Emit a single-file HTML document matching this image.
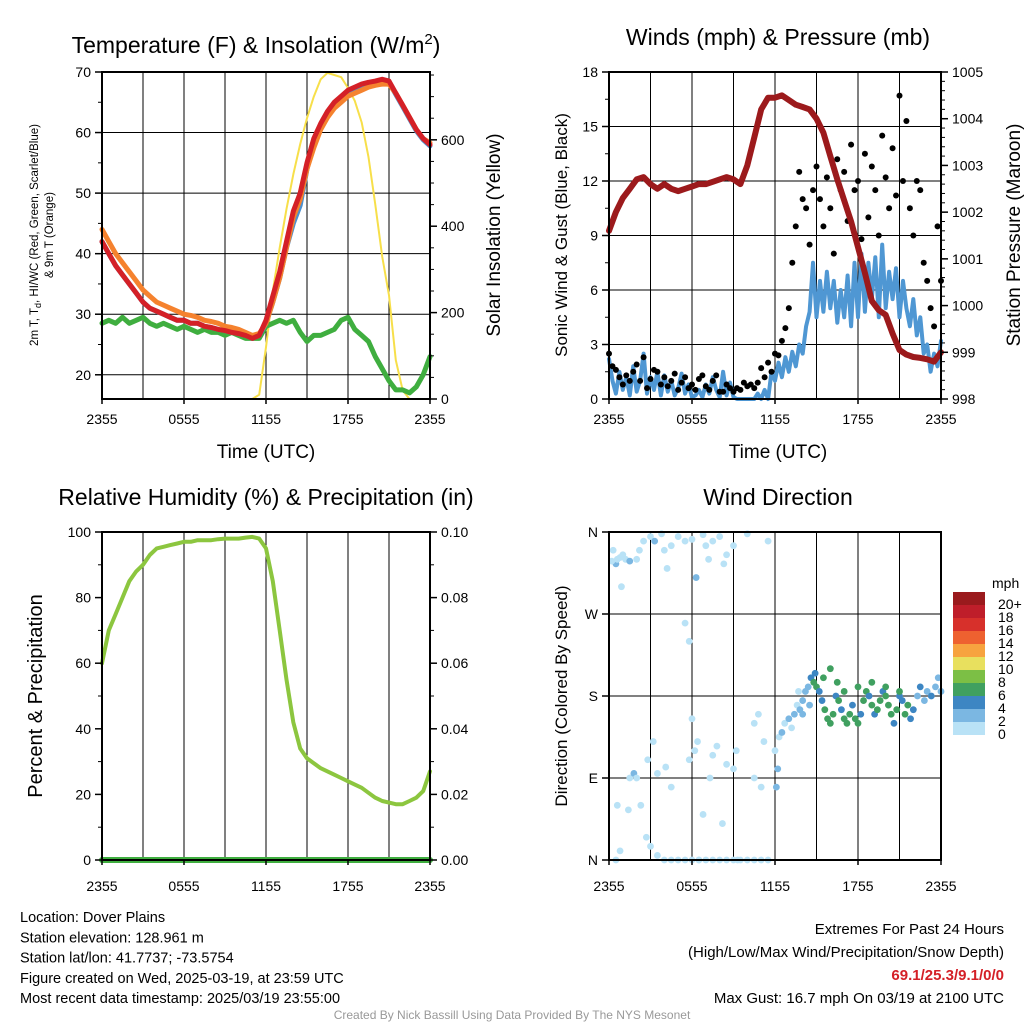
<!DOCTYPE html>
<html><head><meta charset="utf-8"><style>
html,body{margin:0;padding:0;background:#fff;}
svg{display:block;font-family:"Liberation Sans",sans-serif;}
</style></head><body>
<svg id="c" width="1024" height="1024" viewBox="0 0 1024 1024" xmlns="http://www.w3.org/2000/svg"></svg>
<script>
// ---- data (0.5h steps from 2355 UTC) ----
const hours = [];
for (let i = 0; i <= 48; i++) hours.push(i * 0.5);
const xTickLabels = ["2355","0555","1155","1755","2355"];
const tempRed = [42,40,38,36.5,35,33.5,32,31,30.5,30,29.5,29,29,28.5,28.5,28,27.8,27.5,27.3,27,26.8,26.5,26,26.5,29,33,37,42,47,50,55,59,61.5,63.5,65,66,67,67.5,68,68.3,68.5,68.8,68.5,66.5,64.5,62.5,60.5,59,58];
const tempOrange = [44,42,40,38.5,37,35.5,34,33,32,31.5,31,30.5,30,29.8,29.5,29,28.8,28.5,28,27.8,27.5,27,26.5,26.8,28.5,32,36,41,46,49,54,57.5,60.5,62.5,64,65,66,66.5,67,67.5,67.8,68,68,66.5,64.5,62.5,60.5,59,58.3];
const tempBlue = [42,40,38,36.5,35,33.5,32,31,30.5,30,29.5,29,29,28.5,28.5,28,27.8,27.5,27.3,27,26.8,26.5,26,26.5,28.5,32,36,41,45,48,54,58.5,61,63,64.5,65.5,66.5,67,67.5,68,68.3,68.5,68.3,66.3,64.3,62.3,60.3,58.8,57.8];
const dewGreen = [28.5,29,28.5,29.5,28.5,29,29.5,28.5,28,28.5,28,27.5,28,27.5,27,27.5,27,27,26.5,27,26.5,26,26,26,28,28.5,29,28.5,29,27,25.5,26.5,26.5,27,27.5,29,29.5,27.5,26.5,25.5,23,21,19,17.5,17.5,17,18,20,23];
const solar = [0,0,0,0,0,0,0,0,0,0,0,0,0,0,0,0,0,0,0,0,0,0,0,10,120,250,350,440,520,590,650,700,740,755,750,745,720,690,640,560,450,330,240,90,20,0,0,0,0];
const windMean = [2.2,1.0,0.3,1.5,0.5,1.2,0.2,1.8,0.4,1.0,2.5,0.3,
1.2,0.5,1.5,0.2,1.3,0.4,1.0,0.2,0.6,1.4,0.3,0.8,
0.1,0.2,0.5,0.1,0.8,0.3,1.2,0.5,0.1,1.5,0.2,0.9,
0.1,0,0,0,0,0,0,0.3,0,0.5,0,1.5,
1.0,2.0,1.2,2.3,1.5,2.6,1.8,3.0,2.5,4.0,4.8,7.5,
4.5,6.5,4.8,7.0,5.0,6.5,4.2,6.0,4.5,6.8,4.0,7.5,
4.5,8.0,4.8,7.5,5.5,7.8,4.5,8.5,5.0,7.0,5.5,7.2,
4.5,6.5,5.0,4.0,5.5,3.5,4.5,2.5,3.0,1.5,2.5,1.8,3.2];
const pressure = [1001.6,1002.0,1002.3,1002.5,1002.7,1002.75,1002.6,1002.5,1002.6,1002.5,1002.45,1002.5,1002.55,1002.6,1002.6,1002.65,1002.7,1002.75,1002.7,1002.6,1003.0,1003.6,1004.2,1004.45,1004.45,1004.5,1004.4,1004.3,1004.25,1004.2,1004.0,1003.7,1003.2,1002.7,1002.25,1001.8,1001.25,1000.7,1000.1,999.9,999.8,999.4,999.05,998.95,998.9,998.88,998.85,998.8,999.0];
const gust = [2.5,1.8,1.6,1.2,0.8,1.3,1.0,1.5,1.9,1.0,2.3,0.6,
1.1,1.6,1.5,0.8,1.2,0.7,1.0,1.4,0.5,0.9,1.2,0.6,
0.8,0.5,1.1,1.3,0.7,0.5,1.0,1.3,0.4,0.4,0.8,0.6,
0.4,0.6,0.5,0.9,0.7,0.8,0.6,0.9,1.7,1.2,2.0,1.5,
2.5,2.4,3.2,3.9,5.0,7.5,9.5,12.5,11.0,10.5,8.5,11.5,
12.8,11.0,9.5,12.2,10.5,8.0,13.2,11.5,12.5,9.8,14.0,11.5,
12.0,8.8,13.5,10.0,12.8,11.5,9.0,14.5,12.2,10.5,13.8,11.2,
16.7,12.0,15.3,10.5,9.0,12.0,11.5,7.5,6.5,5.0,4.0,9.5,6.5];
const rh = [60,70,75,80,85,88,90,93,95,95.5,96,96.5,97,97,97.5,97.5,97.5,97.8,98,98,98,98.3,98.5,98,95,85,70,55,42,34,31,29.5,28,27,26,25,24,23,22,20.5,19,18,17.5,17,17,18,19,21,27];
const precip = [0,0,0,0,0,0,0,0,0,0,0,0,0,0,0,0,0,0,0,0,0,0,0,0,0,0,0,0,0,0,0,0,0,0,0,0,0,0,0,0,0,0,0,0,0,0,0,0,0];
const dirHours = [0.3,0.5,0.2,0.6,0.8,1,1.2,1.5,0.9,0.6,1.4,2,2.2,2.5,3,3.3,3.8,4,4.2,4.5,5,5.5,6,6.3,6.5,6.8,7,7.2,7.5,8,8.3,8.5,9,9.3,10,11.5,
1.5,1.8,2.0,2.3,2.7,3,3.5,4,4.5,5,5.5,6,6.5,7,7.5,8,8.5,9,9.5,10,10.5,11,11.5,
5.5,5.8,6.2,6.4,6,5.8,7.5,7.8,8.5,9,9.2,10.5,10.8,11.2,11,10.5,8.2,7.3,6.8,3.5,3.2,2.8,4.1,4.5,0.5,0.8,
12,12.3,12.5,12.7,13,13.2,13.4,13.6,13.8,14,12.2,12.1,13.7,14.2,14.4,14.6,14.8,14.9,15,15.2,15.4,15.6,15.8,16,16.2,16.4,16.6,16.8,17,17.2,17.4,17.6,17.8,18,18.2,18.4,18.6,18.8,19,19.2,19.4,19.6,19.8,20,20.2,20.4,20.6,20.8,21,21.2,21.4,21.6,21.8,22,22.3,22.5,22.8,23,23.3,23.6,23.8,24,
15.5,16,16.5,17,18,19,20,21,14.5,14];
const dirDeg = [340,325,328,330,332,335,330,328,300,60,55,330,340,350,355,350,358,340,320,345,355,350,352,310,0,357,345,330,350,355,325,335,345,0,358,350,
90,95,90,60,25,15,5,0,0,0,0,0,0,0,0,0,0,0,0,0,0,0,0,
260,240,120,130,155,110,115,125,105,100,120,150,160,130,80,90,40,90,50,95,130,110,102,80,0,10,
120,135,140,150,155,145,160,170,165,175,100,80,185,185,190,200,195,205,190,185,175,165,155,150,160,180,175,165,155,150,160,170,155,150,160,175,185,180,170,160,165,175,185,180,170,160,150,165,180,175,160,170,155,165,180,190,175,185,180,190,200,185,
200,210,195,185,190,195,190,185,170,160];
const dirSpeed = [1,2,1,1,1,1,1,2,1,1,1,1,1,1,1,2,1,1,1,1,1,1,1,2,1,1,1,1,1,1,1,1,1,1,1,1,
1,3,1,1,1,1,1,1,1,1,1,1,1,1,1,1,1,1,1,1,1,1,1,
1,1,1,1,1,1,1,1,1,1,1,1,1,1,1,1,1,1,1,1,1,1,1,1,1,1,
1,1,2,1,2,1,2,1,2,2,2,2,1,3,3,5,6,4,6,5,5,7,6,6,7,5,6,4,6,7,6,5,7,6,5,6,7,5,6,4,6,7,5,6,7,6,5,6,5,4,6,7,5,4,3,4,3,2,4,3,3,2,
7,6,7,6,7,6,7,6,2,2];
const speedBins = ["20+","18","16","14","12","10","8","6","4","2","0"];
const binColors = ["#9a1a1d","#bf1e2a","#d7302b","#ee6130","#f7a33f","#e8e05e","#7cbf45","#40a060","#3d86c3","#7bb7e2","#b9e2f6"];

// ---- drawing ----
const NS = "http://www.w3.org/2000/svg";
const svg = document.getElementById("c");
function mk(tag, attrs, parent) {
  const e = document.createElementNS(NS, tag);
  for (const k in attrs) e.setAttribute(k, attrs[k]);
  (parent || svg).appendChild(e);
  return e;
}
function txt(s, x, y, size, anchor, extra) {
  const t = mk("text", Object.assign({x: x, y: y, "font-size": size, "text-anchor": anchor || "middle", fill: "#000"}, extra || {}));
  t.textContent = s;
  return t;
}
function panel(x0, x1, y0, y1) {
  return {x0, x1, y0, y1, sx: h => x0 + (x1 - x0) * h / 24};
}
function lin(v0, v1, p0, p1) { return v => p0 + (v - v0) * (p1 - p0) / (v1 - v0); }
function poly(xs, ys, color, w, name) {
  let d = "";
  for (let i = 0; i < xs.length; i++) d += (i ? "L" : "M") + xs[i].toFixed(1) + "," + ys[i].toFixed(1);
  const p = mk("path", {d: d, fill: "none", stroke: color, "stroke-width": w, "stroke-linejoin": "round", "stroke-linecap": "round"});
  
  
  return p;
}
function vgrid(P) {
  for (let k = 1; k < 8; k++) {
    const x = P.sx(k * 3);
    const l = mk("line", {x1: x, x2: x, y1: P.y0, y2: P.y1, stroke: "#000", "stroke-width": 1});
    
    
  }
}
function hgrid(P, ys) {
  ys.forEach(y => {
    const l = mk("line", {x1: P.x0, x2: P.x1, y1: y, y2: y, stroke: "#000", "stroke-width": 1});
    
    
  });
}
function frame(P, name) {
  const r = mk("rect", {x: P.x0, y: P.y0, width: P.x1 - P.x0, height: P.y1 - P.y0, fill: "none", stroke: "#000", "stroke-width": 2});
  
  
}
function xticks(P, ty) {
  xTickLabels.forEach((s, i) => {
    const x = P.sx(i * 6);
    mk("line", {x1: x, x2: x, y1: P.y1, y2: P.y1 + 5, stroke: "#000", "stroke-width": 1.5});
    const t = txt(s, x, ty, 14);
    
    
  });
}
function yticks(P, vals, labels, sy, side, minor) {
  const x = side === "l" ? P.x0 : P.x1;
  const d = side === "l" ? -1 : 1;
  (minor || []).forEach(v => mk("line", {x1: x, x2: x + d * 4, y1: sy(v), y2: sy(v), stroke: "#000", "stroke-width": 1}));
  vals.forEach((v, i) => {
    const y = sy(v);
    mk("line", {x1: x, x2: x + d * 7, y1: y, y2: y, stroke: "#000", "stroke-width": 1.5});
    const t = txt(labels[i], side === "l" ? x - 11 : x + 11, y + 5, 14, side === "l" ? "end" : "start");
    
    
  });
}
function vlabel(s, x, y, size, name) {
  const t = txt(s, x, y, size, "middle", {transform: "rotate(-90 " + x + " " + y + ")"});
  
  
  return t;
}
function title(s, x, y, name) {
  const t = txt(s, x, y, 23);
  
  
  return t;
}

// ===== Panel 1 =====
const P1 = panel(102, 430, 72, 399);
const t1 = lin(16, 70, 399, 72);
const s1 = lin(0, 757, 399, 72);
vgrid(P1);
hgrid(P1, [20,30,40,50,60].map(t1));
poly(hours.map(P1.sx), solar.map(s1), "#f7df4a", 2, "solar-insolation-line");
poly(hours.map(P1.sx), dewGreen.map(t1), "#3fae3f", 5, "dewpoint-line");
poly(hours.map(P1.sx), tempBlue.map(t1), "#4a90d0", 5, "heat-index-windchill-line");
poly(hours.map(P1.sx), tempOrange.map(t1), "#f5822e", 5, "temp-9m-line");
poly(hours.map(P1.sx), tempRed.map(t1), "#d42027", 5, "temp-2m-line");
frame(P1, "temperature-plot-frame");
xticks(P1, 424);
yticks(P1, [20,30,40,50,60,70], ["20","30","40","50","60","70"], t1, "l", [25,35,45,55,65]);
yticks(P1, [0,200,400,600], ["0","200","400","600"], s1, "r", [50,100,150,250,300,350,450,500,550,650,700,750]);
const tt1 = title("Temperature (F) & Insolation (W/m", 256, 53, "temperature-title");
const sup = mk("tspan", {dy: -9, "font-size": 15}, tt1); sup.textContent = "2";
const sup2 = mk("tspan", {dy: 9}, tt1); sup2.textContent = ")";
txt("Time (UTC)", 266, 458, 19);
vlabel("Solar Insolation (Yellow)", 500, 235, 19, "right-y-axis-title");
const yl1 = txt("", 38, 235, 11.5, "middle", {transform: "rotate(-90 38 235)"});


yl1.innerHTML = "2m T, T<tspan dy='3' font-size='9'>d</tspan><tspan dy='-3'>, HI/WC (Red, Green, Scarlet/Blue)</tspan>";
vlabel("& 9m T (Orange)", 53, 235, 11.5, "left-y-axis-title-2");

// ===== Panel 2 =====
const P2 = panel(609, 941, 72, 399);
const w2 = lin(0, 18, 399, 72);
const p2 = lin(998, 1005, 399, 72);
vgrid(P2);
hgrid(P2, [3,6,9,12,15].map(w2));
poly(windMean.map((v, i) => P2.sx(i * 0.25)), windMean.map(w2), "#4f97d3", 4, "sonic-wind-line");
gust.forEach((g, i) => {
  const c = mk("circle", {cx: P2.sx(i * 0.25), cy: w2(g), r: 3, fill: "#000"});
  
  
});
poly(hours.map(P2.sx), pressure.map(p2), "#9c1a1c", 6, "station-pressure-line");
frame(P2, "winds-plot-frame");
xticks(P2, 424);
yticks(P2, [0,3,6,9,12,15,18], ["0","3","6","9","12","15","18"], w2, "l", [1.5,4.5,7.5,10.5,13.5,16.5]);
const pm = []; for (let v = 998; v <= 1005; v += 0.2) pm.push(v);
yticks(P2, [998,999,1000,1001,1002,1003,1004,1005], ["998","999","1000","1001","1002","1003","1004","1005"], p2, "r", pm);
title("Winds (mph) & Pressure (mb)", 778, 45, "winds-title");
txt("Time (UTC)", 778, 458, 19);
vlabel("Sonic Wind & Gust (Blue, Black)", 567, 235, 17, "wind-y-axis-title");
vlabel("Station Pressure (Maroon)", 1020, 235, 19, "pressure-y-axis-title");

// ===== Panel 3 =====
const P3 = panel(102, 430, 532, 860);
const r3 = lin(0, 100, 860, 532);
const q3 = lin(0, 0.1, 860, 532);
vgrid(P3);
poly(hours.map(P3.sx), rh.map(r3), "#8cc63f", 4, "relative-humidity-line");
poly(hours.map(P3.sx), precip.map(q3), "#3fae3f", 6, "precipitation-line");
frame(P3, "humidity-plot-frame");
xticks(P3, 891);
yticks(P3, [0,20,40,60,80,100], ["0","20","40","60","80","100"], r3, "l", [10,30,50,70,90]);
yticks(P3, [0,0.02,0.04,0.06,0.08,0.1], ["0.00","0.02","0.04","0.06","0.08","0.10"], q3, "r", [0.01,0.03,0.05,0.07,0.09]);
title("Relative Humidity (%) & Precipitation (in)", 266, 505, "humidity-title");
vlabel("Percent & Precipitation", 42, 696, 20, "humidity-y-axis-title");

// ===== Panel 4 =====
const P4 = panel(609, 941, 532, 860);
const d4 = lin(0, 360, 860, 532);
vgrid(P4);
hgrid(P4, [90,180,270].map(d4));
dirHours.forEach((h, i) => {
  const s = dirSpeed[i];
  const bin = Math.min(10, Math.floor(s / 2));
  const c = mk("circle", {cx: P4.sx(h), cy: d4(dirDeg[i]), r: 3.4, fill: binColors[10 - bin]});
  
  
});
frame(P4, "wind-direction-plot-frame");
xticks(P4, 891);
yticks(P4, [0,90,180,270,360], ["N","E","S","W","N"], d4, "l", []);
title("Wind Direction", 778, 505, "wind-direction-title");
vlabel("Direction (Colored By Speed)", 567, 696, 17, "direction-y-axis-title");
// colorbar
const cbTop = 592, cbH = 13;
speedBins.forEach((lab, i) => {
  const r = mk("rect", {x: 953, y: cbTop + i * cbH, width: 32, height: cbH, fill: binColors[i]});
  
  
  const t = txt(lab, 998, cbTop + i * cbH + 17, 14, "start");
  
  
});
txt("mph", 992, 588, 14, "start");

// ===== Footer text =====
const info = ["Location: Dover Plains","Station elevation: 128.961 m","Station lat/lon: 41.7737; -73.5754","Figure created on Wed, 2025-03-19, at 23:59 UTC","Most recent data timestamp: 2025/03/19 23:55:00"];
info.forEach((s, i) => {
  const t = txt(s, 20, 922 + i * 20.3, 14.5, "start");
  
  
});
txt("Extremes For Past 24 Hours", 1004, 934, 15, "end");
txt("(High/Low/Max Wind/Precipitation/Snow Depth)", 1004, 957, 15, "end");
txt("69.1/25.3/9.1/0/0", 1004, 980, 15, "end", {fill: "#d42027", "font-weight": "bold"});
txt("Max Gust: 16.7 mph On 03/19 at 2100 UTC", 1004, 1003, 15, "end");
txt("Created By Nick Bassill Using Data Provided By The NYS Mesonet", 512, 1019, 12, "middle", {fill: "#999"});
</script>
</body></html>
